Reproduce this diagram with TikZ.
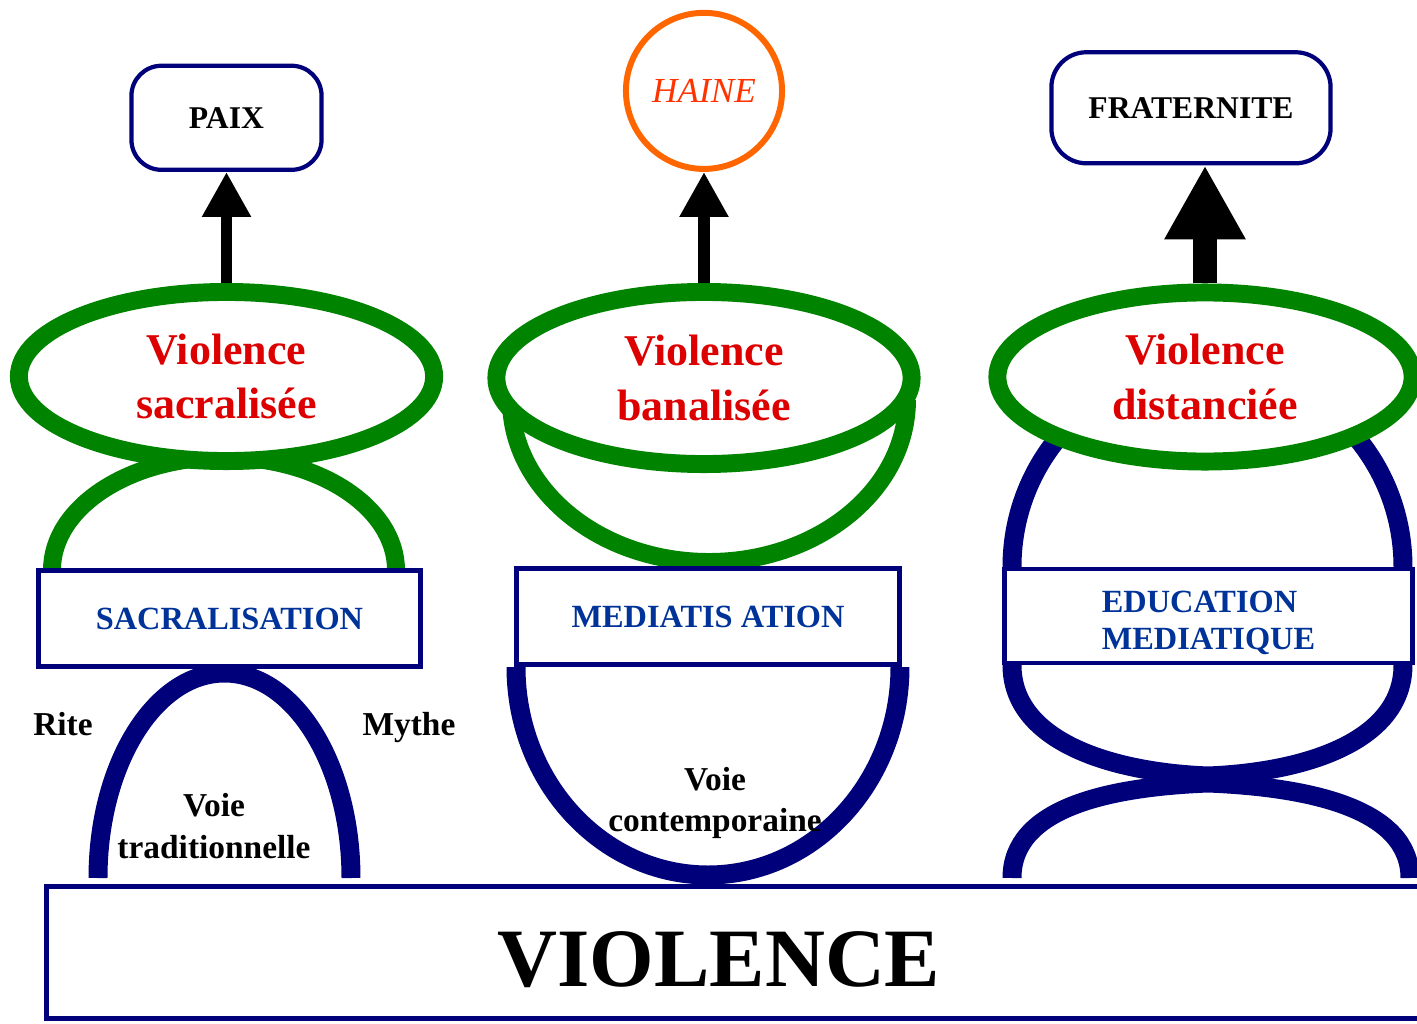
\documentclass[tikz,border=0pt]{standalone}
\usepackage{fontspec}
\setmainfont{Liberation Serif}
\usetikzlibrary{positioning,shapes.geometric,arrows.meta}
\definecolor{navyline}{RGB}{0,0,122}
\definecolor{leafgreen}{RGB}{0,132,0}
\definecolor{titlered}{RGB}{220,0,0}
\definecolor{labelblue}{RGB}{0,51,153}
\definecolor{hateorange}{RGB}{255,102,0}
\definecolor{hatetext}{RGB}{255,51,0}

\begin{document}
\begin{tikzpicture}
[x=0.01cm, y=-0.01cm,
% The goal style is used for the rounded boxes on top
goal/.style={rectangle, rounded corners=0.3cm, draw=navyline, line width=1.2pt, fill=white, inner sep=0pt, font=\bfseries\fontsize{9}{11}\selectfont},
% The violence style is used for the green ellipses
violence/.style={ellipse, draw=leafgreen, line width=5.1pt, fill=white, inner sep=0pt, minimum width=4.15cm, minimum height=1.69cm, align=center, text=titlered, font=\bfseries\fontsize{12.5}{15.4}\selectfont},
% The way style is used for the blue boxes
way/.style={rectangle, draw=navyline, line width=1.4pt, fill=white, inner sep=0pt, minimum width=3.82cm, minimum height=0.96cm, align=left, text=labelblue, font=\bfseries\fontsize{9.2}{10.3}\selectfont},
% The comment style is used for the black labels
comment/.style={inner sep=0pt, align=center, font=\bfseries\fontsize{9.5}{11.7}\selectfont},
greenarc/.style={leafgreen, line width=5.1pt},
bluearc/.style={navyline, line width=5.4pt},
lift/.style={black, line width=3.4pt, -{Triangle[width=0.46cm,length=0.45cm]}}
]
\clip (0,0) rectangle (1417,1024);

% Draw arcs
\draw[bluearc] (98,878) arc[start angle=180, end angle=360, x radius=126.5, y radius=205];
\draw[greenarc] (52,570) arc[start angle=180, end angle=360, x radius=172, y radius=113];
\draw[bluearc] (516,667) arc[start angle=180, end angle=0, x radius=192, y radius=208];
\draw[greenarc] (511,400) arc[start angle=180, end angle=0, x radius=198, y radius=162];
\draw[bluearc] (1012,878) .. controls (1012,808) and (1108,787) .. (1208,783)
  .. controls (1308,787) and (1410,808) .. (1410,878);
\draw[bluearc] (1012,665) .. controls (1012,740) and (1108,772) .. (1208,776)
  .. controls (1308,772) and (1403,740) .. (1403,665);
\draw[bluearc] (1012,567) arc[start angle=180, end angle=360, x radius=195.5, y radius=200];

% Draw base
\node [rectangle, draw=navyline, line width=1.4pt, fill=white, minimum width=13.99cm, minimum height=1.32cm] (base) at (746,952.5) {};
\node [inner sep=0pt, font=\bfseries\fontsize{23.6}{27}\selectfont] (basetext) at (719,960) {VIOLENCE};

% Draw ways
\node [way] (sacral) at (229.5,618.5) {SACRALISATION};
\node [way] (media) at (708,616.5) {MEDIATIS ATION};
\node [way, minimum width=4.07cm, minimum height=0.94cm] (educ) at (1208.5,616) {\rule{0pt}{0.35cm}EDUCATION\\MEDIATIQUE};

% Draw ellipses
\node [violence] (vsac) at (226.5,376.5) {Violence\\sacralisée};
\node [violence, minimum height=1.72cm] (vban) at (704,378) {Violence\\banalisée};
\node [violence] (vdist) at (1205,377) {Violence\\distanciée};

% Draw goals
\node [goal, minimum width=1.9cm, minimum height=1.04cm, above=1.11cm of vsac] (paix) {PAIX};
\node [circle, draw=hateorange, line width=1.7pt, minimum size=1.56cm, inner sep=0pt, text=hatetext, font=\itshape\fontsize{10}{12}\selectfont, above=1.11cm of vban] (haine) {\raisebox{-0.08cm}{HAINE}};
\node [goal, rounded corners=0.35cm, minimum width=2.79cm, minimum height=1.11cm, above=1.18cm of vdist, xshift=-0.14cm] (frat) {FRATERNITE};

\draw[lift] (vsac) -- (paix);
\draw[lift] (vban) -- (haine);
\draw[lift, line width=6.8pt, -{Triangle[width=0.76cm,length=0.74cm]}] (vdist.north) -- (vdist.north |- frat.south);

% Draw comments
\node [comment, anchor=base] (rite) at (63,735) {Rite};
\node [comment, anchor=base] (mythe) at (409,735) {Mythe};
\node [comment] (trad) at (214,826) {Voie\\traditionnelle};
\node [comment] (contemp) at (715,803) {Voie\\contemporaine};
\end{tikzpicture}
\end{document}
